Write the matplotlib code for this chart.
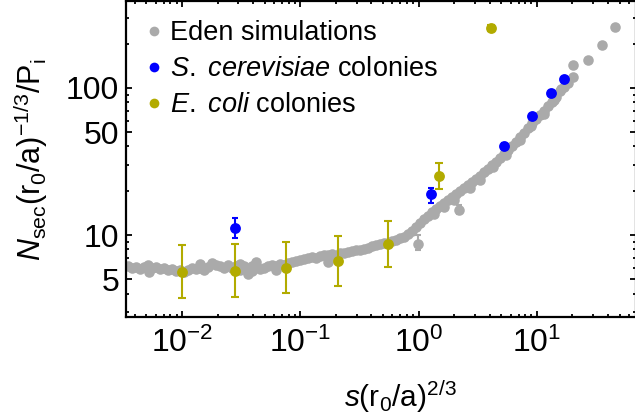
import matplotlib
matplotlib.use("Agg")
import matplotlib.pyplot as plt
from matplotlib.ticker import FixedLocator, NullFormatter, FixedFormatter
from matplotlib.lines import Line2D

plt.rcParams['font.family'] = ['Liberation Sans', 'DejaVu Sans']
plt.rcParams['mathtext.fontset'] = 'custom'
plt.rcParams['mathtext.rm'] = 'Liberation Sans'
plt.rcParams['mathtext.it'] = 'Liberation Sans:italic'
plt.rcParams['mathtext.bf'] = 'Liberation Sans:bold'

# ---- Eden simulations (grey) ----
eden_x = [0.00350, 0.00378, 0.00409, 0.00442, 0.00477, 0.00516, 0.00558, 0.00603,
          0.00652, 0.00705, 0.00762, 0.00823, 0.00890, 0.00962, 0.0104, 0.0112,
          0.0121, 0.0131, 0.0142, 0.0153, 0.0166, 0.0179, 0.0194, 0.0210, 0.0226,
          0.0245, 0.0265, 0.0286, 0.0309, 0.0334, 0.0361, 0.0391, 0.0422, 0.0456,
          0.0493, 0.0533, 0.0577, 0.0623, 0.0674, 0.0728, 0.0787, 0.0851, 0.0920,
          0.00530, 0.0142, 0.0391, 0.0623, 0.0309,
          0.0994, 0.1075, 0.1162, 0.1256, 0.1357, 0.1467, 0.1586, 0.1715, 0.1715,
          0.1854, 0.2004, 0.2166, 0.2341, 0.2531, 0.2735, 0.2957, 0.3196, 0.3455,
          0.3735, 0.4037, 0.4364, 0.4717, 0.5099, 0.5512, 0.5958, 0.6442, 0.6963,
          0.7527, 0.8136, 0.8795, 0.9507, 1.028, 1.111, 1.201, 1.298, 1.403, 1.517,
          1.640, 1.772, 1.916, 2.071, 2.239, 2.420, 2.616, 2.828, 3.057, 3.304,
          3.572, 3.861, 4.173, 4.512, 4.877, 5.272, 5.699, 6.160, 6.659, 7.198,
          7.781, 8.411, 9.092, 9.827, 10.62, 11.48, 12.41, 13.42, 14.50, 15.68,
          16.95, 18.32, 20.2, 20.2, 27.0, 35.5, 45.7,
          1.35, 1.64, 2.00, 2.70, 3.30, 4.30, 5.50, 7.20, 8.90, 11.5, 14.0, 16.0]
eden_y = [6.15, 5.96, 6.06, 5.87, 6.06, 6.25, 5.96, 6.06,
          5.87, 5.96, 5.78, 5.87, 5.69, 5.78, 5.60, 5.78,
          5.96, 5.87, 5.96, 5.78, 6.06, 6.45, 6.25, 6.15, 5.96,
          6.25, 5.96, 6.15, 6.35, 6.15, 5.43, 6.15, 6.55, 5.87,
          5.96, 6.15, 6.25, 6.15, 6.35, 6.25, 6.45, 6.55, 6.65,
          5.60, 6.35, 5.69, 5.78, 5.78,
          6.76, 6.87, 6.98, 7.09, 6.98, 7.20, 7.31, 6.55, 7.31,
          7.43, 7.20, 7.54, 7.54, 7.66, 7.78, 7.91, 7.91, 8.03,
          8.16, 8.42, 8.55, 8.69, 8.82, 8.82, 9.10, 9.25, 9.54,
          9.69, 10.16, 10.64, 11.33, 12.07, 12.85, 13.47, 14.34, 15.03, 15.75,
          16.51, 17.31, 18.14, 19.01, 19.93, 20.88, 21.88, 22.94, 24.04, 25.2,
          26.8, 28.1, 29.94, 31.38, 33.4, 35.6, 37.87, 40.3, 42.6, 46.4,
          49.4, 53.4, 57.8, 61.5, 65.5, 69.8, 75.4, 80.3, 86.8, 94.7,
          101.6, 108.7, 118.8, 143.4, 155.0, 196.0, 260.0,
          13.9, 15.5, 17.3, 21.0, 23.5, 29.0, 35.0, 44.0, 55.0, 67.0, 83.0, 98.0]

# Eden points carrying visible error bars
eden_err_x = [0.99, 2.20]
eden_err_y = [8.69, 14.8]
eden_err_lo = [0.78, 0.9]
eden_err_hi = [1.3, 1.1]

# ---- S. cerevisiae colonies (blue) ----
scer_x = [0.028, 1.27, 5.27, 9.1, 13.2, 16.9]
scer_y = [11.2, 19.0, 40.3, 64.6, 92.5, 115.0]
scer_lo = [1.65, 2.5, 2.0, 2.0, 2.0, 2.0]
scer_hi = [1.85, 1.9, 2.0, 2.0, 2.0, 2.0]

# ---- E. coli colonies (olive) ----
ecoli_x = [0.010, 0.028, 0.0757, 0.208, 0.551, 1.49, 4.09]
ecoli_y = [5.6, 5.7, 5.96, 6.65, 8.69, 25.2, 256.0]
ecoli_lo = [1.87, 1.91, 1.93, 2.15, 2.63, 4.6, 12.0]
ecoli_hi = [2.95, 3.0, 3.0, 3.19, 3.76, 5.7, 12.0]

xtick_vals = [0.01, 0.1, 1, 10, 100]
xtick_labels = [r'$10^{-2}$', r'$10^{-1}$', r'$10^{0}$', r'$10^{1}$', r'$10^{2}$']
ytick_vals = [5, 10, 50, 100]
ytick_labels = ['5', '10', '50', '100']

GREY = '#aaaaaa'
BLUE = '#0000ff'
OLIVE = '#b2ab00'

W, H = 635, 419
fig = plt.figure(figsize=(W / 100, H / 100), dpi=100)
AX_W, AX_H = 510, 315.5
ax = fig.add_axes([126 / W, (H - 317) / H, AX_W / W, AX_H / H])
ax.set_xscale('log')
ax.set_yscale('log')

ax.plot(eden_x, eden_y, 'o', color=GREY, ms=7.6, mec='none', zorder=2)
ax.errorbar(eden_err_x, eden_err_y, yerr=[eden_err_lo, eden_err_hi], fmt='o', color=GREY,
            ms=7.6, mec='none', elinewidth=1.5, capsize=2.5, capthick=1.5, zorder=2)
ax.errorbar(ecoli_x, ecoli_y, yerr=[ecoli_lo, ecoli_hi], fmt='o', color=OLIVE,
            ms=7.8, mec='none', elinewidth=1.5, capsize=3.2, capthick=1.5, zorder=3)
ax.errorbar(scer_x, scer_y, yerr=[scer_lo, scer_hi], fmt='o', color=BLUE,
            ms=7.8, mec='none', elinewidth=1.5, capsize=2.5, capthick=1.5, zorder=4)

ax.set_xlim(0.003365, 68.9)
ax.set_ylim(2.77, 387)

ax.xaxis.set_major_locator(FixedLocator(xtick_vals))
ax.xaxis.set_major_formatter(FixedFormatter(xtick_labels))
minors_x = [m * 10.0 ** e for e in range(-3, 2) for m in range(2, 10)]
ax.xaxis.set_minor_locator(FixedLocator(minors_x))
ax.xaxis.set_minor_formatter(NullFormatter())

ax.yaxis.set_major_locator(FixedLocator(ytick_vals))
ax.yaxis.set_major_formatter(FixedFormatter(ytick_labels))
minors_y = [m * 10.0 ** e for e in range(0, 3) for m in range(2, 10) if m * 10.0 ** e not in ytick_vals]
ax.yaxis.set_minor_locator(FixedLocator(minors_y))
ax.yaxis.set_minor_formatter(NullFormatter())

ax.tick_params(which='both', direction='in', top=True, right=True, width=1.3, labelsize=23)
ax.tick_params(which='major', length=4.5)
ax.tick_params(which='minor', length=2.5)
ax.tick_params(axis='x', pad=8)
ax.tick_params(axis='y', pad=5)
for s in ax.spines.values():
    s.set_linewidth(1.6)

ax.set_xlabel(r'$\mathit{s}\mathrm{(r_0/a)^{2/3}}$', fontsize=21.5)
ax.xaxis.set_label_coords((400 - 126) / AX_W, -(378 - 317) / AX_H)
ax.set_ylabel(r'$\mathit{N}_{\mathrm{sec}}\mathrm{(r_0/a)^{-1/3}/P_i}$', fontsize=22)
ax.yaxis.set_label_coords(-(126 - 50) / AX_W, 0.5)

handles = [Line2D([], [], ls='none', marker='o', color=GREY, ms=7, mec='none'),
           Line2D([], [], ls='none', marker='o', color=BLUE, ms=7, mec='none'),
           Line2D([], [], ls='none', marker='o', color=OLIVE, ms=7, mec='none')]
labels = ['Eden simulations', r'$\mathit{S.\ cerevisiae}$ colonies', r'$\mathit{E.\ coli}$ colonies']
ax.legend(handles, labels, loc='upper left',
          bbox_to_anchor=((146 - 126) / AX_W, 1.0 - 19 / AX_H), frameon=False,
          fontsize=19.5, handlelength=0.6, handletextpad=0.3, labelspacing=0.36,
          borderaxespad=0.0, borderpad=0.0)

fig.savefig('out.png', dpi=100)
